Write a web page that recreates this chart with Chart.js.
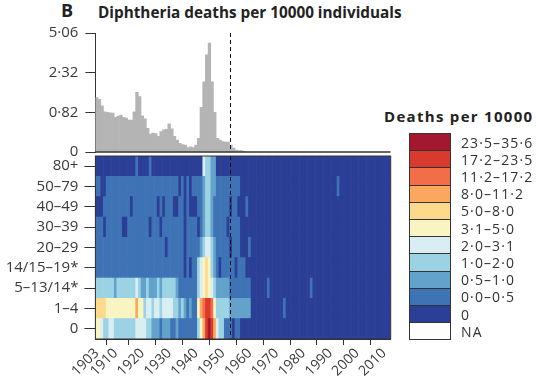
<!DOCTYPE html>
<html>
<head>
<meta charset="utf-8">
<script src="https://cdn.jsdelivr.net/npm/chart.js@4.4.1/dist/chart.umd.min.js"></script>
<style>
  body { margin: 0; background: #fff; }
  #wrap { position: relative; width: 537px; height: 384px; overflow: hidden; font-family: 'Open Sans', sans-serif; color: #333; }
  canvas { position: absolute; left: 0; }
  #top { top: 0; }
  #heat { top: 140px; }
  .bold { position: absolute; white-space: nowrap; font-weight: bold; color: #222; }
  .key { position: absolute; left: 409px; width: 42px; box-sizing: border-box; border: 1px solid #333; }
  .keylab { position: absolute; left: 461px; font-size: 14px; line-height: 17px; letter-spacing: 1.1px; white-space: nowrap; color: #333; }
</style>
</head>
<body>
<div id="wrap">
  <div class="bold" style="left:61px;top:-2px;font-size:18px;">B</div>
  <div class="bold" style="left:98px;top:2px;font-size:15.3px;">Diphtheria deaths per 10000 individuals</div>
  <div class="bold" style="left:384px;top:106px;font-size:15px;letter-spacing:1.3px;">Deaths per 10000</div>
  <canvas id="heat" width="400" height="244"></canvas>
  <canvas id="top" width="400" height="172"></canvas>
  <div id="legend"></div>
</div>
<script>
const firstYear = 1903
const lastYear = 2012
const years = []
for (let y = firstYear; y <= lastYear; y++) years.push(y)

// all ages, deaths per 10000, 1903 onwards (later years are 0)
const totalDeaths = [
  1.28, 1.22, 1.01, 0.84, 0.82, 0.81, 0.80, 0.69, 0.72, 0.75,
  0.69, 0.67, 0.62, 0.62, 0.84, 1.47, 1.31, 0.73, 0.65, 0.43,
  0.31, 0.33, 0.32, 0.27, 0.36, 0.40, 0.41, 0.53, 0.42, 0.27,
  0.20, 0.14, 0.12, 0.11, 0.07, 0.08, 0.07, 0.11, 0.23, 0.97,
  1.89, 3.35, 4.20, 1.89, 0.82, 0.23, 0.20, 0.17, 0.16, 0.16,
  0.11, 0.06, 0.03, 0.02, 0.02, 0.01
]
const topTickLabels = ['0', '0·82', '2·32', '5·06']
const xTickYears = [1903, 1910, 1920, 1930, 1940, 1950, 1960, 1970, 1980, 1990, 2000, 2010]
const vaccineYear = 1952.5

const ageGroups = ['0', '1–4', '5–13/14*', '14/15–19*', '20–29', '30–39', '40–49', '50–79', '80+']

// bins of deaths per 10000
const binLabels = ['0', '0·0–0·5', '0·5–1·0', '1·0–2·0', '2·0–3·1', '3·1–5·0', '5·0–8·0', '8·0–11·2', '11·2–17·2', '17·2–23·5', '23·5–35·6']
const binColors = ['#2b3f96', '#3e73b5', '#62a2cb', '#9cd3e4', '#d9eef3', '#f8f5c2', '#fdd98b', '#fba760', '#f36d46', '#da3a2d', '#a3182e']
const naColor = '#ffffff'

// each row: [bin, number of consecutive years] from 1903 to 2012
const age0 = [[5,2],[4,1],[3,2],[4,2],[3,8],[4,4],[3,2],[2,3],[1,1],[2,3],[1,2],[2,1],[1,7],[3,1],[5,1],[7,1],[9,1],[10,1],[9,1],[7,1],[4,1],[3,2],[1,3],[0,1],[1,2],[0,56]]
const age1to4 = [[6,4],[5,11],[7,1],[5,2],[3,1],[4,2],[3,1],[4,2],[3,1],[4,4],[3,2],[2,1],[3,1],[2,1],[1,1],[2,1],[1,2],[5,1],[7,1],[8,1],[9,2],[8,1],[5,1],[3,5],[2,8],[0,12],[1,1],[0,39]]
const age5to13 = [[3,7],[2,1],[3,7],[4,1],[3,1],[2,2],[3,1],[2,3],[3,1],[2,1],[3,5],[2,1],[1,7],[3,1],[4,1],[5,1],[6,1],[5,1],[4,1],[3,1],[2,5],[1,8],[0,6],[1,1],[0,15],[1,1],[0,29]]
const age14to19 = [[1,33],[0,1],[1,1],[0,1],[1,2],[3,1],[4,1],[5,1],[6,1],[5,1],[3,1],[2,1],[1,1],[0,1],[1,5],[0,1],[1,3],[0,54]]
const age20to29 = [[1,26],[0,1],[1,6],[0,1],[1,5],[2,1],[3,1],[4,2],[3,1],[2,1],[1,5],[0,1],[1,3],[0,3],[1,1],[0,52]]
const age30to39 = [[1,3],[0,1],[1,6],[0,2],[1,8],[0,1],[1,3],[0,1],[1,8],[0,1],[1,4],[0,1],[1,1],[2,1],[3,2],[2,1],[1,5],[0,1],[1,4],[0,56]]
const age40to49 = [[0,3],[1,10],[0,1],[1,9],[0,1],[1,1],[0,1],[1,3],[0,2],[1,2],[0,1],[1,1],[0,3],[1,2],[2,1],[3,2],[2,1],[1,6],[0,1],[1,2],[0,3],[1,1],[0,53]]
const age50to79 = [[1,2],[0,2],[1,27],[0,1],[1,1],[0,1],[1,1],[0,1],[1,4],[2,1],[3,2],[2,2],[1,9],[0,36],[1,1],[0,19]]
const age80plus = [[0,15],[1,1],[0,4],[1,1],[0,19],[4,1],[3,2],[2,2],[0,65]]

const ageRows = [age0, age1to4, age5to13, age14to19, age20to29, age30to39, age40to49, age50to79, age80plus]

Chart.defaults.font.family = "'Open Sans', sans-serif"
Chart.defaults.font.size = 15
Chart.defaults.color = '#3a3a3a'

const dashLine = {
  id: 'dashLine',
  afterDatasetsDraw(chart) {
    const { ctx, chartArea, scales } = chart
    const x = Math.round(scales.x.getPixelForValue(vaccineYear)) + 0.5
    ctx.save()
    ctx.strokeStyle = '#111'
    ctx.lineWidth = 1
    ctx.setLineDash([4, 3])
    ctx.beginPath()
    ctx.moveTo(x, chartArea.top)
    ctx.lineTo(x, chartArea.bottom)
    ctx.stroke()
    ctx.restore()
  }
}

const baseLine = {
  id: 'baseLine',
  afterDraw(chart) {
    const { ctx, chartArea } = chart
    ctx.save()
    ctx.strokeStyle = '#333'
    ctx.lineWidth = 1.5
    ctx.beginPath()
    ctx.moveTo(chartArea.left, chartArea.bottom)
    ctx.lineTo(chartArea.right, chartArea.bottom)
    ctx.stroke()
    ctx.restore()
  }
}

const frame = {
  id: 'frame',
  afterDraw(chart) {
    const { ctx, chartArea } = chart
    ctx.save()
    ctx.strokeStyle = '#333'
    ctx.lineWidth = 1
    ctx.strokeRect(chartArea.left, chartArea.top, chartArea.right - chartArea.left, chartArea.bottom - chartArea.top)
    ctx.restore()
  }
}

const toNumber = s => parseFloat(s.replace('·', '.'))

new Chart(document.getElementById('top'), {
  type: 'bar',
  data: {
    datasets: [{
      data: totalDeaths.map((v, i) => ({ x: years[i], y: Math.log1p(v) })),
      backgroundColor: '#b4b4b4',
      borderWidth: 0,
      barPercentage: 1,
      categoryPercentage: 1
    }]
  },
  options: {
    responsive: false,
    animation: false,
    plugins: { legend: { display: false }, tooltip: { enabled: false } },
    layout: { padding: { top: 33, right: 9.5, bottom: 20, left: 0 } },
    scales: {
      x: { type: 'linear', display: false, min: firstYear - 0.5, max: lastYear + 0.5, offset: false },
      y: {
        min: 0, max: Math.log1p(toNumber(topTickLabels[3])),
        afterBuildTicks: s => { s.ticks = topTickLabels.map(t => ({ value: Math.log1p(toNumber(t)) })) },
        ticks: { callback: (v, i) => topTickLabels[i], padding: 7 },
        grid: { drawOnChartArea: false, tickLength: 10, color: '#333' },
        border: { color: '#333' },
        afterFit: s => { s.width = 95.4 }
      }
    }
  },
  plugins: [dashLine, baseLine]
})

const heatSets = ageRows.map((runs, k) => {
  const cells = []
  let i = 0
  runs.forEach(([bin, n]) => {
    for (let j = 0; j < n; j++) {
      cells.push({ x: years[i], y: [k, k + 1], bin })
      i++
    }
  })
  if (i !== years.length) console.warn('row', ageGroups[k], 'has', i, 'years')
  return {
    label: ageGroups[k],
    data: cells,
    backgroundColor: c => c.raw ? binColors[c.raw.bin] : naColor,
    borderWidth: 0,
    grouped: false,
    barPercentage: 1,
    categoryPercentage: 1
  }
})

new Chart(document.getElementById('heat'), {
  type: 'bar',
  data: { datasets: heatSets },
  options: {
    responsive: false,
    animation: false,
    plugins: { legend: { display: false }, tooltip: { enabled: false } },
    layout: { padding: { top: 16, right: 9.3, bottom: 0, left: 0 } },
    scales: {
      x: {
        type: 'linear', min: firstYear - 0.5, max: lastYear + 0.5, offset: false,
        afterBuildTicks: s => { s.ticks = xTickYears.map(v => ({ value: v })) },
        ticks: { autoSkip: false, minRotation: 45, maxRotation: 45, callback: v => String(v), padding: 0, font: { size: 14 } },
        grid: { drawOnChartArea: false, tickLength: 6, color: '#333' },
        border: { color: '#333' },
        afterFit: s => { s.height = 45 }
      },
      y: {
        min: 0, max: ageGroups.length,
        afterBuildTicks: s => { s.ticks = ageGroups.map((g, k) => ({ value: k + 0.5 })) },
        ticks: { callback: (v, i) => ageGroups[i], padding: 6 },
        grid: { drawOnChartArea: false, tickLength: 11, color: '#333' },
        border: { color: '#333' },
        afterFit: s => { s.width = 95.4 }
      }
    }
  },
  plugins: [frame, dashLine]
})

// legend, highest bin first, NA last
const legend = document.getElementById('legend')
const keyItems = binLabels.map((l, i) => [l, binColors[i]]).reverse().concat([['NA', naColor]])
const keyTop = 133
const keyH = 17.2
keyItems.forEach(([label, color], k) => {
  const box = document.createElement('div')
  box.className = 'key'
  box.style.top = (keyTop + k * keyH) + 'px'
  box.style.height = (keyH + 1) + 'px'
  box.style.background = color
  legend.appendChild(box)
  const lab = document.createElement('div')
  lab.className = 'keylab'
  lab.style.top = (keyTop + k * keyH + 0.5) + 'px'
  lab.textContent = label
  legend.appendChild(lab)
})
</script>
</body>
</html>
